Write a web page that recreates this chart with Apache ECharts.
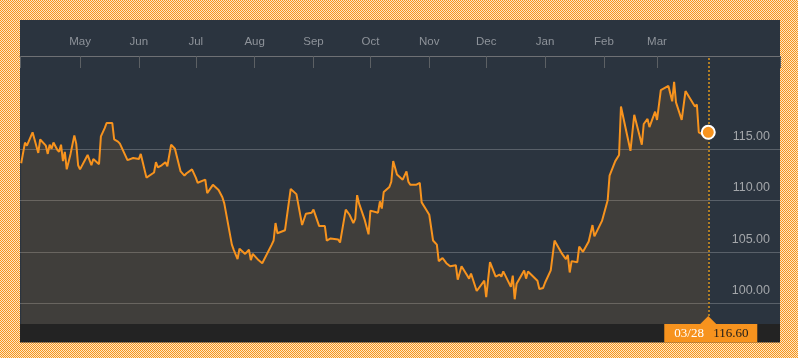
<!DOCTYPE html>
<html><head><meta charset="utf-8">
<script src="https://cdn.jsdelivr.net/npm/echarts@6/dist/echarts.min.js"></script>
<style>
html,body{margin:0;padding:0;width:798px;height:358px;overflow:hidden;}
body{background-color:#fbc98e;}
#panel{position:absolute;left:20px;top:20px;width:760px;height:322px;background:#2b343f;}
#chart{position:absolute;left:0;top:0;width:798px;height:358px;}
</style></head><body><div id="panel"></div><div id="chart"></div>
<script>
const dates = [
'2017-03-31','2017-04-01','2017-04-02','2017-04-03','2017-04-06','2017-04-09','2017-04-10','2017-04-13','2017-04-14','2017-04-15','2017-04-16','2017-04-17','2017-04-19','2017-04-20','2017-04-21','2017-04-22','2017-04-23','2017-04-24','2017-04-26','2017-04-28','2017-04-29','2017-04-30',
'2017-05-01','2017-05-05','2017-05-06','2017-05-07','2017-05-08','2017-05-11','2017-05-12','2017-05-14','2017-05-15','2017-05-18','2017-05-19','2017-05-20','2017-05-21','2017-05-22','2017-05-26','2017-05-27','2017-05-29',
'2017-06-01','2017-06-02','2017-06-05','2017-06-09','2017-06-10','2017-06-11','2017-06-13','2017-06-15','2017-06-16','2017-06-18','2017-06-20','2017-06-23','2017-06-25','2017-06-26','2017-06-29',
'2017-07-01','2017-07-02','2017-07-06','2017-07-07','2017-07-10','2017-07-13','2017-07-15','2017-07-16','2017-07-20','2017-07-21','2017-07-23','2017-07-24','2017-07-27','2017-07-29','2017-07-30','2017-07-31',
'2017-08-03','2017-08-04','2017-08-05','2017-08-10','2017-08-11','2017-08-12','2017-08-13','2017-08-17','2017-08-18','2017-08-20','2017-08-23','2017-08-26','2017-08-27','2017-08-28','2017-08-31',
'2017-09-01','2017-09-04','2017-09-07','2017-09-08','2017-09-10','2017-09-14','2017-09-15','2017-09-18','2017-09-20','2017-09-22','2017-09-23','2017-09-24','2017-09-25','2017-09-28','2017-09-30',
'2017-10-01','2017-10-05','2017-10-06','2017-10-07','2017-10-08','2017-10-11','2017-10-12','2017-10-13','2017-10-15','2017-10-18','2017-10-20','2017-10-21','2017-10-22','2017-10-25','2017-10-27','2017-10-28','2017-10-30',
'2017-11-01','2017-11-03','2017-11-05','2017-11-06','2017-11-08','2017-11-10','2017-11-12','2017-11-15','2017-11-16','2017-11-18','2017-11-21','2017-11-22','2017-11-23','2017-11-26','2017-11-30',
'2017-12-01','2017-12-03','2017-12-06','2017-12-08','2017-12-09','2017-12-10','2017-12-14','2017-12-15','2017-12-16','2017-12-17','2017-12-21','2017-12-22','2017-12-23','2017-12-28','2017-12-29','2017-12-31',
'2018-01-01','2018-01-04','2018-01-06','2018-01-10','2018-01-12','2018-01-13','2018-01-14','2018-01-15','2018-01-18','2018-01-19','2018-01-21','2018-01-24','2018-01-26','2018-01-27','2018-01-31',
'2018-02-01','2018-02-03','2018-02-04','2018-02-07','2018-02-08','2018-02-09','2018-02-10','2018-02-15','2018-02-17','2018-02-21','2018-02-22','2018-02-24','2018-02-25','2018-02-28',
'2018-03-01','2018-03-03','2018-03-04','2018-03-07','2018-03-09','2018-03-10','2018-03-11','2018-03-14','2018-03-15','2018-03-16','2018-03-20','2018-03-21','2018-03-22','2018-03-23','2018-03-25','2018-03-28'
];
const values = [
113.6,113.6,115.6,115.3,116.6,114.6,115.9,115.3,114.5,115.4,115.0,115.6,114.9,114.7,115.4,113.8,114.7,113.0,114.5,116.3,115.5,113.4,
113.0,114.4,114.3,113.4,114.0,113.5,116.2,117.0,117.5,117.5,115.9,116.0,115.7,115.5,113.9,113.9,114.1,
114.0,114.5,112.2,112.7,113.7,113.2,113.4,113.7,113.3,115.4,115.0,112.8,112.4,112.6,113.0,
112.2,111.7,112.0,110.7,111.5,111.0,110.3,109.7,105.7,105.2,104.3,105.3,104.8,105.2,104.2,104.8,
104.2,104.1,103.9,105.7,106.1,107.8,106.8,107.1,107.1,111.1,110.6,107.6,107.7,108.7,108.8,
109.1,107.5,107.5,106.1,106.3,106.2,105.9,109.1,108.6,107.8,108.2,110.5,109.7,108.1,106.7,
109.0,108.8,109.9,109.2,110.8,111.3,111.8,113.8,112.5,112.0,112.8,111.8,111.5,111.5,111.7,109.8,109.2,
108.6,106.1,105.7,104.1,104.4,103.9,103.6,103.7,102.3,103.6,102.7,102.4,102.9,101.2,102.2,
100.6,104.0,102.6,102.8,102.6,103.1,101.6,102.7,100.4,101.9,103.2,102.4,103.1,102.2,101.4,101.5,
102.0,103.2,106.1,104.8,104.3,104.7,103.0,104.1,104.0,105.5,105.0,106.0,107.6,106.5,108.0,
108.1,110.0,112.4,113.8,113.7,114.4,119.1,114.8,118.3,115.4,117.4,117.9,117.1,118.6,
117.8,120.7,120.6,121.1,119.6,121.5,119.5,117.8,117.8,120.6,119.4,119.1,119.3,116.6,116.4,116.6
];
const monthTicks = ['2017-05-01','2017-06-01','2017-07-01','2017-08-01','2017-09-01','2017-10-01','2017-11-01','2017-12-01','2018-01-01','2018-02-01','2018-03-01'];
const monthNames = ['Jan','Feb','Mar','Apr','May','Jun','Jul','Aug','Sep','Oct','Nov','Dec'];
const yTicks = [100, 105, 110, 115];
const yMin = 98, yMax = 124;

// dotted orange frame pattern
(function(){
  const c = document.createElement('canvas'); c.width = 2; c.height = 2;
  const g = c.getContext('2d');
  g.fillStyle = '#fde7c4'; g.fillRect(0,0,2,2);
  g.fillStyle = '#f7941d'; g.fillRect(0,0,1,1); g.fillRect(1,1,1,1);
  document.body.style.backgroundImage = 'url(' + c.toDataURL() + ')';
  document.body.style.backgroundRepeat = 'repeat';
})();

function ts(s){ const p = s.split(/[- :]/).map(Number); return new Date(p[0], p[1]-1, p[2], p[3]||0, p[4]||0).getTime(); }
const xMin = ts('2017-03-30 09:00');
const xMax = ts('2018-05-04 19:00');
const monthValues = monthTicks.map(ts);
const tickValues = [xMin].concat(monthValues, [xMax]);

const data = dates.map((d, i) => [ts(d), values[i]]);
const lastT = ts(dates[dates.length-1]);
const lastValue = values[values.length-1];

const chart = echarts.init(document.getElementById('chart'), null, {renderer:'canvas'});
chart.setOption({
  animation:false,
  backgroundColor:'transparent',
  grid:{left:20, right:18, top:56, bottom:34},
  xAxis:{
    type:'value', position:'top', min:xMin, max:xMax,
    axisLine:{show:true, onZero:false, lineStyle:{color:'#6e7074', width:1}},
    axisTick:{show:true, inside:true, length:12, lineStyle:{color:'#5c6064'}, customValues:tickValues},
    axisLabel:{customValues:monthValues, formatter:v => monthNames[new Date(v).getMonth()],
      color:'#8e939a', fontSize:11.5, fontFamily:'Liberation Sans', margin:8},
    splitLine:{show:false}
  },
  yAxis:{
    type:'value', position:'right', min:yMin, max:yMax,
    axisLine:{show:false},
    axisTick:{show:false, customValues:yTicks},
    axisLabel:{customValues:yTicks, inside:true, margin:10, formatter:v => Number(v).toFixed(2),
      color:'#a3a6aa', fontSize:12.5, fontFamily:'Liberation Sans', verticalAlign:'bottom', padding:[0,0,6,0]},
    splitLine:{show:true, lineStyle:{color:'#596069', width:1}}
  },
  series:[{
    type:'line', data:data, showSymbol:false, silent:true,
    lineStyle:{color:'#f7931e', width:2},
    areaStyle:{color:'rgba(247,147,30,0.15)', origin:'start'},
    markLine:{silent:true, symbol:['none','none'], label:{show:false},
      lineStyle:{color:'#b07d24', type:[2,2], width:2},
      data:[{xAxis:lastT}]},
    markPoint:{silent:true, symbol:'circle', symbolSize:13, label:{show:false},
      itemStyle:{color:'#f7931e', borderColor:'#ffffff', borderWidth:2},
      data:[{coord:[lastT, lastValue]}]}
  }]
});

const p = chart.convertToPixel({gridIndex:0}, [lastT, lastValue]);
const bottomY = chart.convertToPixel({gridIndex:0}, [lastT, yMin])[1];
const leftX = chart.convertToPixel({gridIndex:0}, [xMin, yMin])[0];
const rightX = chart.convertToPixel({gridIndex:0}, [xMax, yMin])[0];
const ld = new Date(lastT);
const dateLabel = String(ld.getMonth()+1).padStart(2,'0') + '/' + String(ld.getDate()).padStart(2,'0');
chart.setOption({graphic:[
  {type:'rect', silent:true, z:100, shape:{x:leftX, y:bottomY, width:rightX-leftX, height:18.5}, style:{fill:'#232323'}},
  {type:'rect', silent:true, z:101, shape:{x:p[0]-44, y:bottomY, width:93, height:18.5}, style:{fill:'#f7931e'}},
  {type:'polygon', silent:true, z:101, shape:{points:[[p[0], bottomY-8],[p[0]-8, bottomY],[p[0]+8, bottomY]]}, style:{fill:'#f7931e'}},
  {type:'text', silent:true, z:102, x:p[0]-34, y:bottomY+9.5, style:{text:dateLabel, fill:'#ffffff', font:'13px "Liberation Serif"', verticalAlign:'middle', align:'left'}},
  {type:'text', silent:true, z:102, x:p[0]+5, y:bottomY+9.5, style:{text:lastValue.toFixed(2), fill:'#1a1a1a', font:'13px "Liberation Serif"', verticalAlign:'middle', align:'left'}}
]});
</script></body></html>
